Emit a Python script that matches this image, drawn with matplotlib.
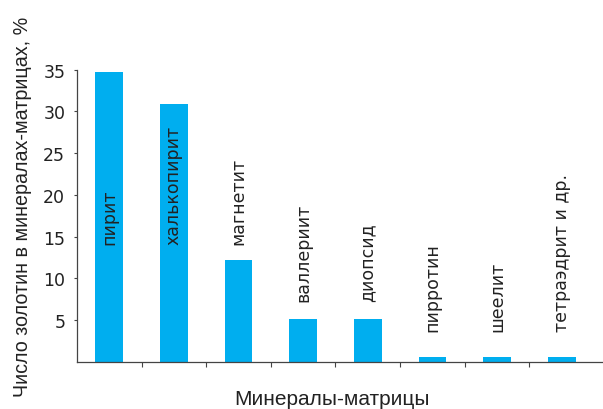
import matplotlib
matplotlib.use("Agg")
import matplotlib.pyplot as plt

plt.rcParams['font.family'] = ['Liberation Sans', 'DejaVu Sans']

minerals = ["пирит", "халькопирит", "магнетит", "валлериит", "диопсид",
            "пирротин", "шеелит", "тетраэдрит и др."]
values = [34.7, 30.9, 12.2, 5.1, 5.1, 0.6, 0.6, 0.6]
label_base = [14.1, 14.1, 14.1, 7.3, 7.3, 3.7, 3.7, 3.7]
yticks = [5, 10, 15, 20, 25, 30, 35]

W, H = 603, 410
fig = plt.figure(figsize=(W / 100, H / 100), dpi=100)
left, right, bottom, top = 77, 603, 363, 70.7
ax = fig.add_axes([left / W, 1 - bottom / H, (right - left) / W, (bottom - top) / H])

x = list(range(len(minerals)))
ax.bar(x, values, width=0.43, color='#00AEEF', zorder=2)

for xi, name, yb in zip(x, minerals, label_base):
    ax.text(xi, yb, name, rotation=90, ha='center', va='bottom',
            fontsize=12.5, color='#222222', family=['DejaVu Sans'])

ax.set_xlim(-0.5, 7.64)
ax.set_ylim(0, 35)
ax.set_yticks(yticks)
ax.set_yticklabels([str(t) for t in yticks], fontsize=12.5, color='#222222',
                   family=['DejaVu Sans'])
ax.set_xticks([i + 0.5 for i in range(7)])
ax.set_xticklabels([])
ax.tick_params(axis='y', direction='out', length=2.5, width=0.8, pad=6, colors='#444444', labelcolor='#222222')
ax.tick_params(axis='x', direction='out', length=3.6, width=0.8, colors='#444444')
for s in ['top', 'right']:
    ax.spines[s].set_visible(False)
for s in ['left', 'bottom']:
    ax.spines[s].set_color('#444444')
    ax.spines[s].set_linewidth(0.9)

fig.text(332 / W, 1 - 400 / H, "Минералы-матрицы", ha='center', va='center',
         fontsize=15, color='#222222')
fig.text(23 / W, 1 - 207 / H, "Число золотин в минералах-матрицах, %",
         rotation=90, ha='center', va='center', fontsize=14.2, color='#222222')

fig.savefig("out.png", dpi=100)
